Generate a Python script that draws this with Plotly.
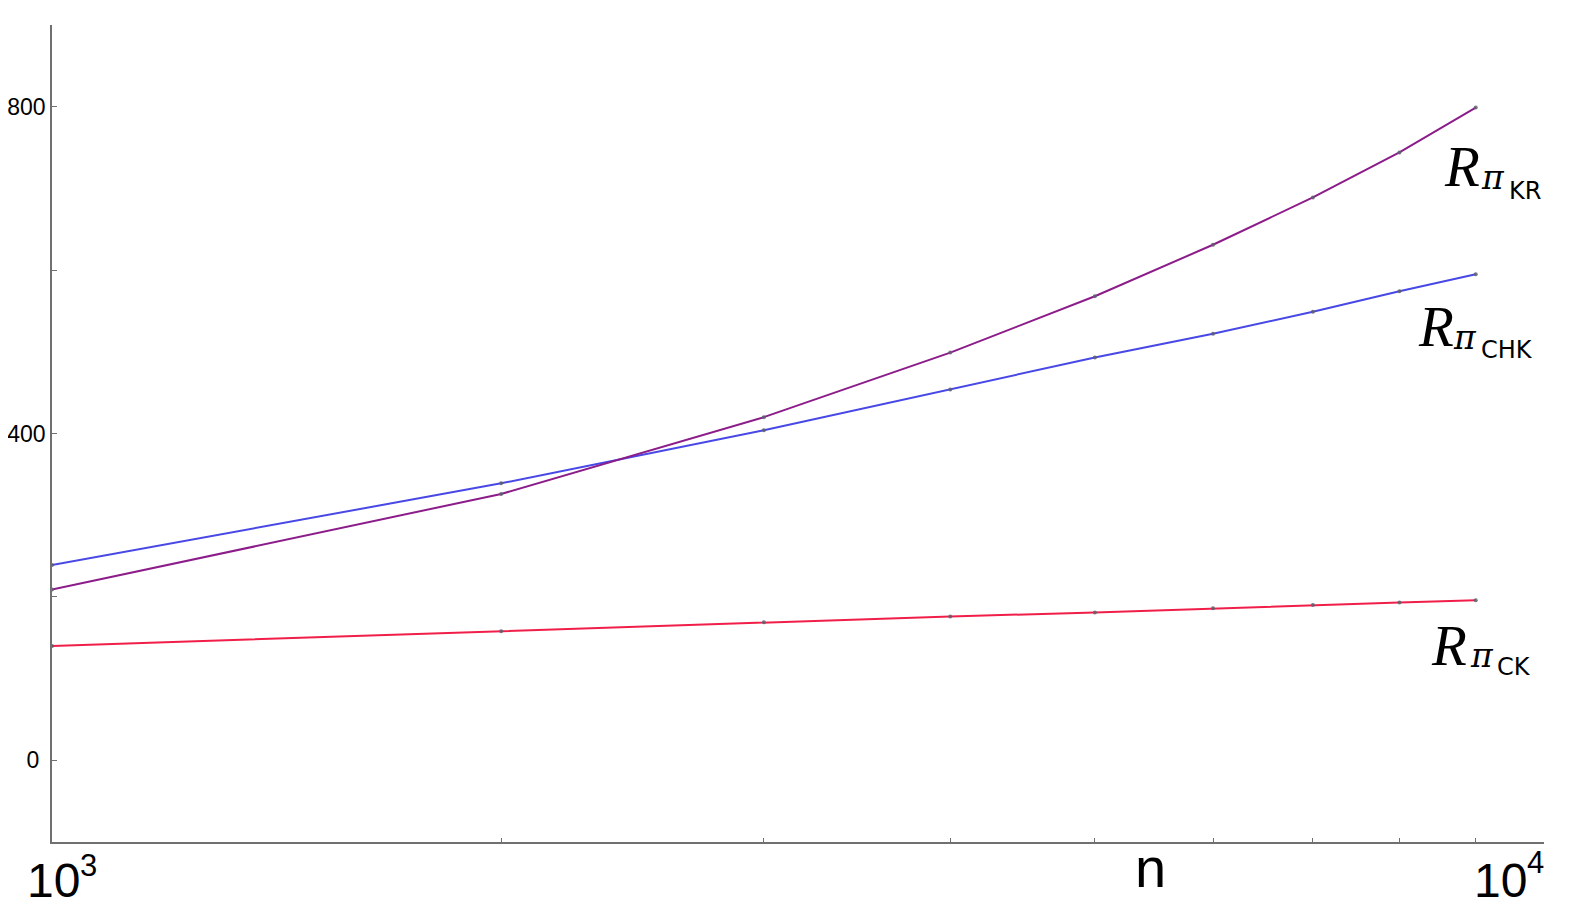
import plotly.graph_objects as go

# ---- data ----
n_values = [1000, 2000, 3000, 4000, 5000, 6000, 7000, 8000, 9000]
r_kr = [209, 326, 420, 499, 568, 631, 689, 744, 799]
r_chk = [239, 339, 404, 454, 493, 522, 549, 574, 595]
r_ck = [140, 158, 169, 176, 181, 186, 190, 193, 196]

y_tick_vals = [0, 400, 800]
y_tick_text = ["0\u00a0", "400", "800"]
y_minor_vals = [200, 600, 900]
x_tick_vals = [2000, 3000, 4000, 5000, 6000, 7000, 8000, 9000, 10000]

W, H = 1575, 915
OFF = 8  # page body margin
# plot area in screen pixels
SX0, SX1, SY0, SY1 = 52, 1544, 25, 842
L, T = SX0 - OFF, SY0 - OFF
R, B = W - (SX1 - OFF), H - (SY1 - OFF)
PW, PH = SX1 - SX0, SY1 - SY0


def px(x):
    return (x - SX0) / PW


def py(y):
    return (SY1 - y) / PH


fig = go.Figure()
marker = dict(size=4, color="rgba(95,95,110,0.85)")
fig.add_trace(go.Scatter(x=n_values, y=r_ck, mode="lines+markers",
                         line=dict(color="#f01e48", width=2), marker=marker))
fig.add_trace(go.Scatter(x=n_values, y=r_chk, mode="lines+markers",
                         line=dict(color="#4848e6", width=2), marker=marker))
fig.add_trace(go.Scatter(x=n_values, y=r_kr, mode="lines+markers",
                         line=dict(color="#8c1c8a", width=2), marker=marker))

annos = []
serif = "Liberation Serif"
sans = "Liberation Sans"


def add(text, x, y, size, family, anchor="middle"):
    annos.append(dict(text=text, x=px(x), y=py(y), xref="paper", yref="paper",
                      xanchor="left", yanchor=anchor, showarrow=False,
                      font=dict(size=size, family=family, color="black"),
                      borderpad=0))


# series labels
for (rx, ry, pix, piy, sx, sy, sub) in [
    (1443, 166, 1480, 177, 1508, 191, "KR"),
    (1417, 326, 1452, 337, 1480, 349.5, "CHK"),
    (1430, 645, 1469, 655, 1496, 667, "CK"),
]:
    add("<i>R</i>", rx, ry, 57, serif)
    add("<i>π</i>", pix, piy, 33, "DejaVu Serif")
    add(sub, sx, sy, 24, "DejaVu Sans")

# axis labels
add("10", 26, 880, 48, sans)
add("3", 79, 866, 31, sans)
add("10", 1473, 880, 48, sans)
add("4", 1526, 862, 31, sans)
add("n", 1134, 867, 56, sans)

axis_gray = "#707070"
fig.update_layout(
    width=W, height=H,
    margin=dict(l=L, r=R, t=T, b=B),
    paper_bgcolor="white", plot_bgcolor="white",
    showlegend=False,
    annotations=annos,
    xaxis=dict(type="log", range=[3, 4], showgrid=False, zeroline=False,
               showline=True, linecolor=axis_gray, linewidth=1.5,
               tickmode="array", tickvals=x_tick_vals, ticks="inside",
               ticklen=4, tickcolor=axis_gray, showticklabels=False,
               automargin=False),
    yaxis=dict(range=[-100, 900], showgrid=False, zeroline=False,
               showline=True, linecolor=axis_gray, linewidth=1.5,
               tickmode="array", tickvals=y_tick_vals, ticktext=y_tick_text,
               ticks="inside", ticklen=5, tickcolor=axis_gray, ticklabelstandoff=0,
               tickfont=dict(size=23, family=sans, color="black"),
               minor=dict(tickmode="array", tickvals=y_minor_vals, ticks="inside",
                          ticklen=5, tickcolor=axis_gray, showgrid=False),
               automargin=False),
)

fig.write_html("out.html")
